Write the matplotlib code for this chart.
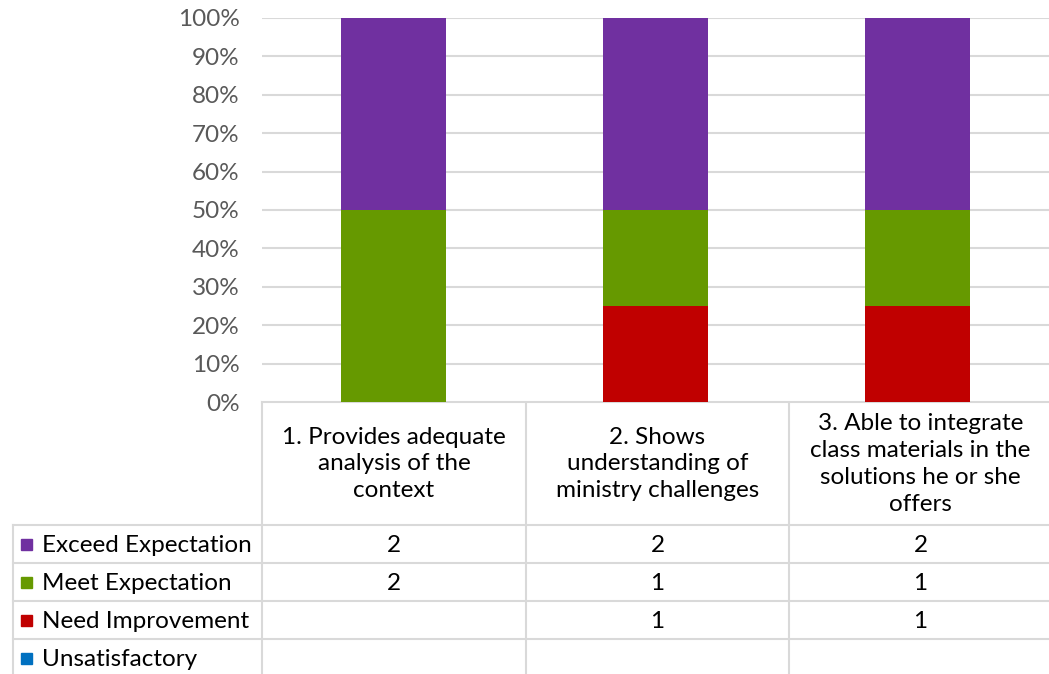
import matplotlib
matplotlib.use('Agg')
import matplotlib.pyplot as plt
import numpy as np

# Data
categories = ['1. Provides adequate\nanalysis of the\ncontext',
              '2. Shows\nunderstanding of\nministry challenges',
              '3. Able to integrate\nclass materials in the\nsolutions he or she\noffers']
series = ['Exceed Expectation', 'Meet Expectation', 'Need Improvement', 'Unsatisfactory']
exceed = [2, 2, 2]
meet = [2, 1, 1]
need = [None, 1, 1]
unsat = [None, None, None]
colors = ['#7030A0', '#669900', '#C00000', '#0070C0']

plt.rcParams['font.family'] = ['Lato', 'DejaVu Sans']
W, H = 1049, 674
fig = plt.figure(figsize=(W / 100, H / 100), dpi=100)
fs = 17.5

# bar axes in pixel layout
x0, x1, ytop, ybot = 262, 1049, 18, 402
ax = fig.add_axes([x0 / W, 1 - ybot / H, (x1 - x0) / W, (ybot - ytop) / H])

vals = np.array([[v or 0 for v in s] for s in [exceed, meet, need, unsat]], dtype=float)
pct = vals / vals.sum(axis=0) * 100
x = np.arange(len(categories))
bottom = np.zeros(len(categories))
# stack from the bottom: unsatisfactory, need, meet, exceed
for i in [3, 2, 1, 0]:
    ax.bar(x, pct[i], bottom=bottom, width=0.4, color=colors[i], zorder=3)
    bottom += pct[i]

ax.set_xlim(-0.5, 2.5)
ax.set_ylim(0, 100)
ax.set_yticks(np.arange(0, 101, 10))
ax.set_yticklabels([f'{t}%' for t in range(0, 101, 10)], fontsize=fs, color='#595959')
ax.set_xticks([])
ax.tick_params(axis='y', length=0, pad=16)
ax.grid(axis='y', color='#D9D9D9', linewidth=1.5, zorder=0)
for s in ax.spines.values():
    s.set_visible(False)

# data table in a pixel-coordinate overlay
tx = fig.add_axes([0, 0, 1, 1], zorder=-1)
tx.set_xlim(0, W)
tx.set_ylim(H, 0)
tx.axis('off')
lc = '#D9D9D9'
lw = 1.5
col_edges = [262, 526, 789, 1052]
row_edges = [525, 563, 601, 639]
tx.plot([262, W], [402, 402], color=lc, lw=lw)
for yy in row_edges:
    tx.plot([13, W], [yy, yy], color=lc, lw=lw)
for xx in col_edges[:-1]:
    tx.plot([xx, xx], [402, H], color=lc, lw=lw)
tx.plot([13, 13], [525, H], color=lc, lw=lw)

for j, cat in enumerate(categories):
    cx = (col_edges[j] + col_edges[j + 1]) / 2
    tx.text(cx, 464, cat, ha='center', va='center', fontsize=fs,
            linespacing=1.35, color='black')

row_vals = [exceed, meet, need, unsat]
for i, name in enumerate(series):
    yc = 545 + 38 * i
    tx.add_patch(plt.Rectangle((21, yc - 6), 11, 11, color=colors[i]))
    tx.text(42, yc, name, ha='left', va='center', fontsize=fs, color='black')
    for j, v in enumerate(row_vals[i]):
        if v is not None:
            cx = (col_edges[j] + col_edges[j + 1]) / 2
            tx.text(cx, yc, str(v), ha='center', va='center', fontsize=fs, color='black')

fig.savefig('out.png', dpi=100)
